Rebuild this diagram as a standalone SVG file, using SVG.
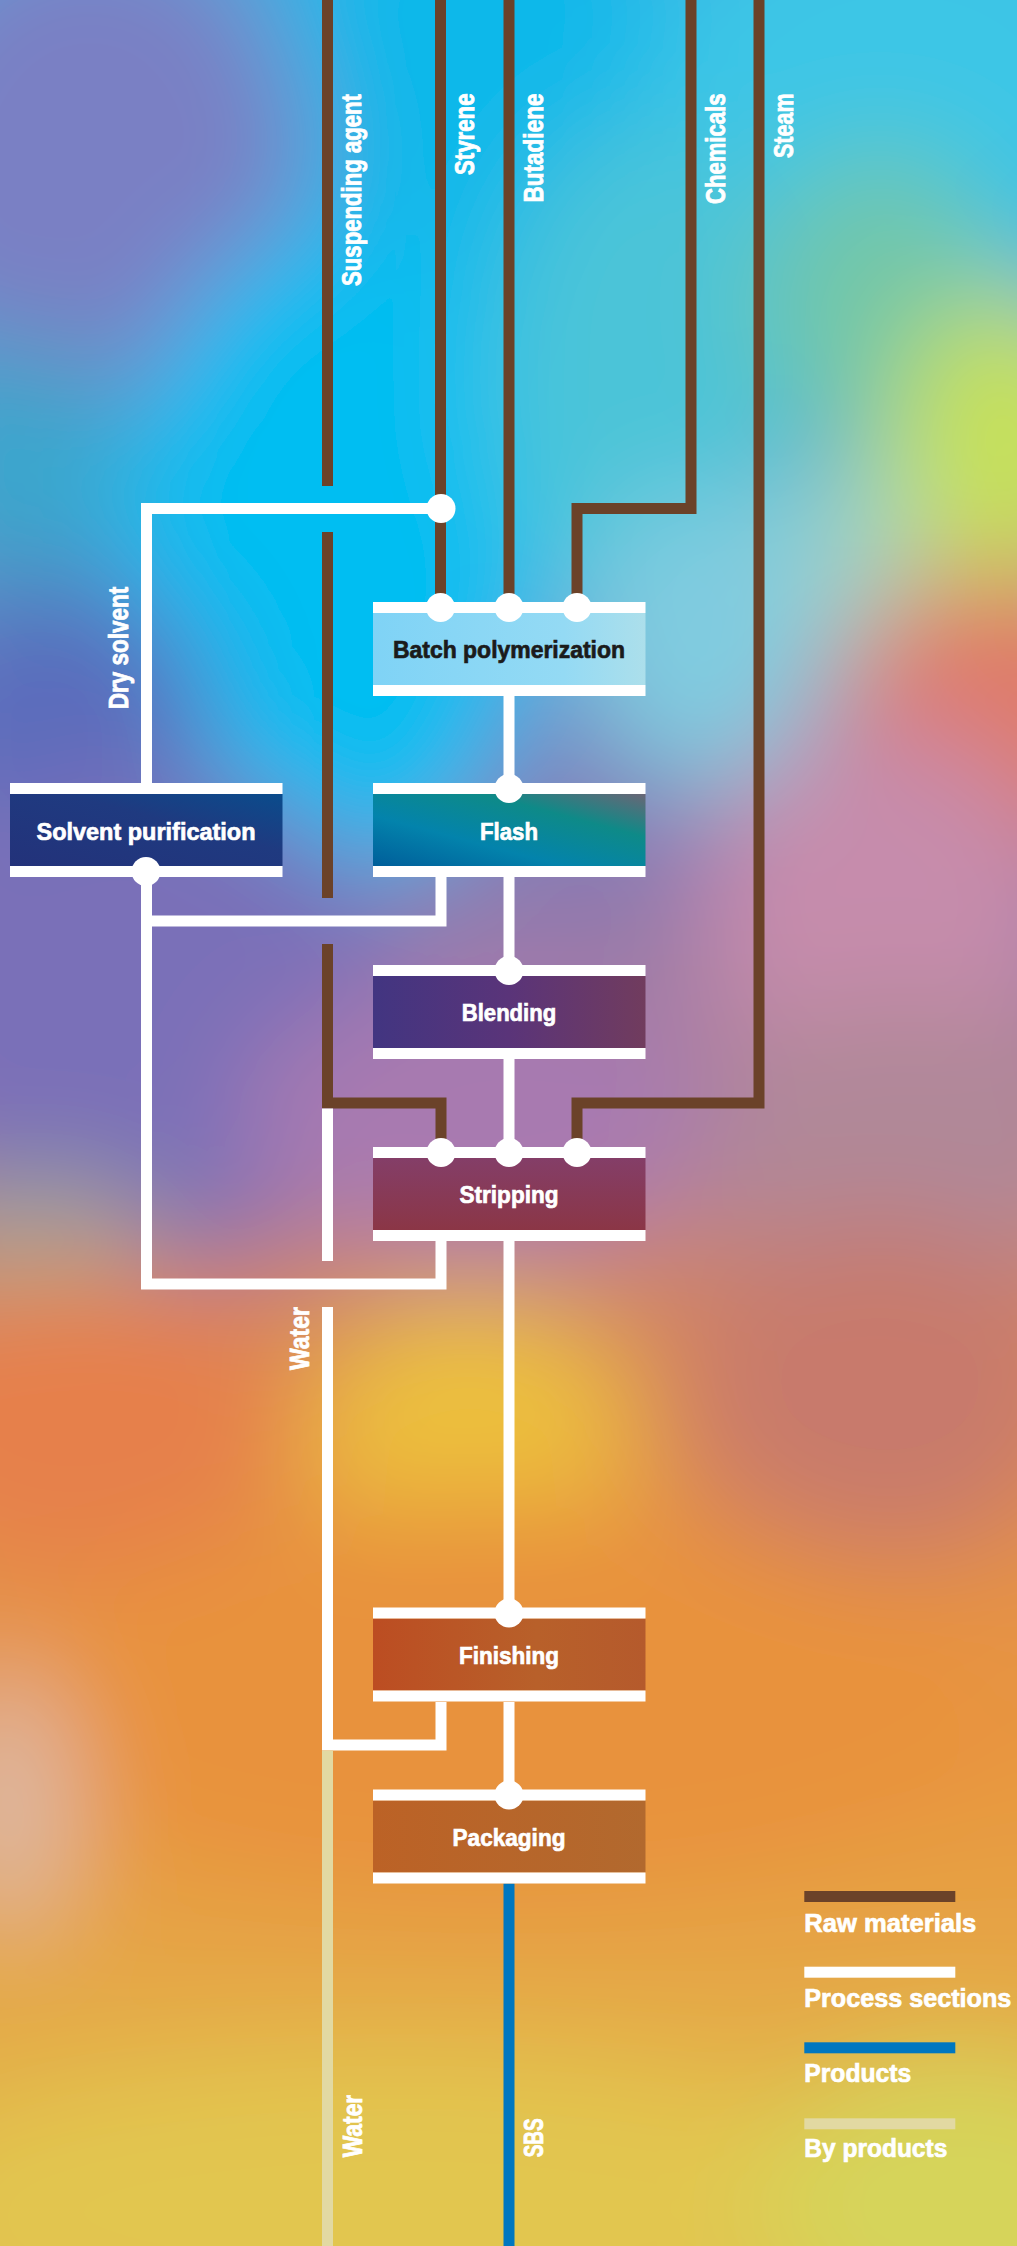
<svg xmlns="http://www.w3.org/2000/svg" width="1017" height="2246" viewBox="0 0 1017 2246">
<defs>
<style>
.raw{stroke:#6b4229;stroke-width:11;fill:none;stroke-linejoin:miter;stroke-linecap:butt}
.proc{stroke:#ffffff;stroke-width:11;fill:none;stroke-linejoin:miter;stroke-linecap:butt}
.prod{stroke:#0077c0;stroke-width:11;fill:none}
.byp{stroke:#e2d9a2;stroke-width:11;fill:none}
.bar{fill:#ffffff}
.dot{fill:#ffffff}
.lbl{font-family:"Liberation Sans",Arial,sans-serif;font-weight:bold;font-size:24.5px;fill:#ffffff;stroke:#ffffff;stroke-width:0.7px;text-anchor:middle}
.vl{font-family:"Liberation Sans",Arial,sans-serif;font-weight:bold;font-size:27px;fill:#ffffff;stroke:#ffffff;stroke-width:0.8px}
.leg{font-family:"Liberation Sans",Arial,sans-serif;font-weight:bold;font-size:25.5px;fill:#ffffff;stroke:#ffffff;stroke-width:0.7px}
</style>
<linearGradient id="bgBase" x1="0" y1="0" x2="0" y2="1">
<stop offset="0" stop-color="#4fa8dc"/>
<stop offset="0.12" stop-color="#30b4e4"/>
<stop offset="0.3" stop-color="#6a90cc"/>
<stop offset="0.4" stop-color="#8878b4"/>
<stop offset="0.5" stop-color="#b8808c"/>
<stop offset="0.6" stop-color="#e08a4e"/>
<stop offset="0.75" stop-color="#e89840"/>
<stop offset="0.88" stop-color="#e2b24a"/>
<stop offset="1" stop-color="#dcc654"/>
</linearGradient>
<filter id="soft" filterUnits="userSpaceOnUse" x="-200" y="-200" width="1417" height="2646">
<feGaussianBlur stdDeviation="55"/>
</filter>
<linearGradient id="gBatch" x1="0" y1="0" x2="1" y2="0">
<stop offset="0" stop-color="#7fd3f6"/><stop offset="0.7" stop-color="#94daf4"/><stop offset="1" stop-color="#acdfeb"/>
</linearGradient>
<linearGradient id="gSolv" x1="0" y1="1" x2="1" y2="0">
<stop offset="0" stop-color="#23327a"/><stop offset="0.6" stop-color="#1f3a80"/><stop offset="1" stop-color="#0a4c8c"/>
</linearGradient>
<linearGradient id="gFlash" x1="0" y1="1" x2="1" y2="0">
<stop offset="0" stop-color="#005e9a"/><stop offset="0.35" stop-color="#0383ac"/><stop offset="0.7" stop-color="#0e8a88"/><stop offset="1" stop-color="#6a6676"/>
</linearGradient>
<linearGradient id="gBlend" x1="0" y1="0" x2="1" y2="0">
<stop offset="0" stop-color="#423581"/><stop offset="0.5" stop-color="#5a3479"/><stop offset="1" stop-color="#713c5e"/>
</linearGradient>
<linearGradient id="gStrip" x1="0" y1="0" x2="0" y2="1">
<stop offset="0" stop-color="#843e68"/><stop offset="1" stop-color="#8b3646"/>
</linearGradient>
<linearGradient id="gFin" x1="0" y1="0" x2="1" y2="0">
<stop offset="0" stop-color="#bc4d22"/><stop offset="0.6" stop-color="#b8602a"/><stop offset="1" stop-color="#b55a2c"/>
</linearGradient>
<linearGradient id="gPack" x1="0" y1="0" x2="1" y2="0">
<stop offset="0" stop-color="#bc6226"/><stop offset="1" stop-color="#b2692e"/>
</linearGradient>
</defs>

<g id="background" filter="url(#soft)">
<rect x="-200" y="-200" width="1417" height="2646" fill="url(#bgBase)"/>
<ellipse cx="480" cy="100" rx="220" ry="240" fill="#0ab8ea"/>
<ellipse cx="900" cy="80" rx="250" ry="200" fill="#3cc6e6"/>
<ellipse cx="90" cy="160" rx="220" ry="240" fill="#7a80c4"/>
<ellipse cx="330" cy="560" rx="210" ry="330" fill="#00bef2"/>
<ellipse cx="640" cy="380" rx="150" ry="260" fill="#4cc4d8"/>
<ellipse cx="20" cy="470" rx="110" ry="130" fill="#3aa6cc"/>
<ellipse cx="60" cy="720" rx="150" ry="140" fill="#5a6cbc"/>
<ellipse cx="880" cy="300" rx="120" ry="150" fill="#72c6a8"/>
<ellipse cx="860" cy="570" rx="100" ry="110" fill="#9cd2c6"/>
<ellipse cx="1010" cy="450" rx="120" ry="160" fill="#c6e05a"/>
<ellipse cx="1000" cy="720" rx="170" ry="150" fill="#e07a66"/>
<ellipse cx="700" cy="640" rx="120" ry="150" fill="#80cce0"/>
<ellipse cx="880" cy="910" rx="180" ry="190" fill="#c68cac"/>
<ellipse cx="140" cy="1020" rx="270" ry="250" fill="#7a70b8"/>
<ellipse cx="480" cy="1120" rx="240" ry="140" fill="#a87ab0"/>
<ellipse cx="900" cy="1150" rx="200" ry="150" fill="#b08898"/>
<ellipse cx="40" cy="1240" rx="120" ry="60" fill="#a8a890"/>
<ellipse cx="80" cy="1420" rx="200" ry="150" fill="#e6804c"/>
<ellipse cx="470" cy="1440" rx="160" ry="140" fill="#ecc03c"/>
<ellipse cx="880" cy="1390" rx="200" ry="170" fill="#c87a6c"/>
<ellipse cx="500" cy="1700" rx="500" ry="200" fill="#e8923e"/>
<ellipse cx="10" cy="1800" rx="60" ry="130" fill="#dcbcaa"/>
<ellipse cx="400" cy="2200" rx="500" ry="150" fill="#e2c650"/>
<ellipse cx="960" cy="2200" rx="200" ry="150" fill="#d6d45a"/>
</g>

<g id="connectors">
<path class="raw" d="M327.5,0 V486"/>
<path class="raw" d="M327.5,532 V898"/>
<path class="raw" d="M327.5,944 V1103 H441 V1152"/>
<path class="raw" d="M440.5,0 V607"/>
<path class="raw" d="M509,0 V607"/>
<path class="raw" d="M691,0 V508.5 H577 V607"/>
<path class="raw" d="M759,0 V1103 H577 V1152"/>
<path class="proc" d="M146.5,783 V508.5 H441"/>
<path class="proc" d="M509,696 V789"/>
<path class="proc" d="M509,877 V970"/>
<path class="proc" d="M441,877 V921 H146.5"/>
<path class="proc" d="M146.5,871.5 V1284 H441 V1240"/>
<path class="proc" d="M509,1059 V1152"/>
<path class="proc" d="M509,1240 V1613"/>
<path class="proc" d="M327.5,1108.5 V1261"/>
<path class="proc" d="M327.5,1307 V1745 H441 V1702"/>
<path class="proc" d="M509,1702 V1795"/>
<circle class="dot" cx="441" cy="508.5" r="14.5"/>
<path class="byp" d="M327.5,1750.5 V2246"/>
<path class="prod" d="M509,1883.5 V2246"/>
<text class="vl" transform="translate(361,286) rotate(-90)" textLength="192" lengthAdjust="spacingAndGlyphs">Suspending agent</text>
<text class="vl" transform="translate(474,175) rotate(-90)" textLength="81.5" lengthAdjust="spacingAndGlyphs">Styrene</text>
<text class="vl" transform="translate(543,202.5) rotate(-90)" textLength="109" lengthAdjust="spacingAndGlyphs">Butadiene</text>
<text class="vl" transform="translate(724.5,204) rotate(-90)" textLength="110.5" lengthAdjust="spacingAndGlyphs">Chemicals</text>
<text class="vl" transform="translate(792.5,158) rotate(-90)" textLength="64.5" lengthAdjust="spacingAndGlyphs">Steam</text>
<text class="vl" transform="translate(128,709.3) rotate(-90)" textLength="122.5" lengthAdjust="spacingAndGlyphs">Dry solvent</text>
<text class="vl" transform="translate(309,1370) rotate(-90)" textLength="63" lengthAdjust="spacingAndGlyphs">Water</text>
<text class="vl" transform="translate(361.7,2157.3) rotate(-90)" textLength="62.5" lengthAdjust="spacingAndGlyphs">Water</text>
<text class="vl" transform="translate(543.3,2157.3) rotate(-90)" textLength="39" lengthAdjust="spacingAndGlyphs">SBS</text>
</g>

<g id="batch-polymerization">
<rect x="373" y="613" width="272.5" height="72" fill="url(#gBatch)"/>
<rect class="bar" x="373" y="602" width="272.5" height="11"/>
<rect class="bar" x="373" y="685" width="272.5" height="11"/>
<circle class="dot" cx="440.5" cy="607.5" r="14.5"/>
<circle class="dot" cx="509" cy="607.5" r="14.5"/>
<circle class="dot" cx="577" cy="607.5" r="14.5"/>
<text class="lbl" x="509" y="658.3" style="fill:#1b1b1b;stroke:#1b1b1b" textLength="232" lengthAdjust="spacingAndGlyphs">Batch polymerization</text>
</g>

<g id="solvent-purification">
<rect x="10" y="794" width="272.5" height="72" fill="url(#gSolv)"/>
<rect class="bar" x="10" y="783" width="272.5" height="11"/>
<rect class="bar" x="10" y="866" width="272.5" height="11"/>
<circle class="dot" cx="146" cy="871.5" r="14.5"/>
<text class="lbl" x="146" y="839.5" textLength="219" lengthAdjust="spacingAndGlyphs">Solvent purification</text>
</g>

<g id="flash">
<rect x="373" y="794" width="272.5" height="72" fill="url(#gFlash)"/>
<rect class="bar" x="373" y="783" width="272.5" height="11"/>
<rect class="bar" x="373" y="866" width="272.5" height="11"/>
<circle class="dot" cx="509" cy="788.5" r="14.5"/>
<text class="lbl" x="509" y="839.5" textLength="58" lengthAdjust="spacingAndGlyphs">Flash</text>
</g>

<g id="blending">
<rect x="373" y="976" width="272.5" height="72" fill="url(#gBlend)"/>
<rect class="bar" x="373" y="965" width="272.5" height="11"/>
<rect class="bar" x="373" y="1048" width="272.5" height="11"/>
<circle class="dot" cx="509" cy="970.5" r="14.5"/>
<text class="lbl" x="509" y="1021.3" textLength="94.5" lengthAdjust="spacingAndGlyphs">Blending</text>
</g>

<g id="stripping">
<rect x="373" y="1158" width="272.5" height="72" fill="url(#gStrip)"/>
<rect class="bar" x="373" y="1147" width="272.5" height="11"/>
<rect class="bar" x="373" y="1230" width="272.5" height="11"/>
<circle class="dot" cx="441" cy="1152.5" r="14.5"/>
<circle class="dot" cx="509" cy="1152.5" r="14.5"/>
<circle class="dot" cx="577" cy="1152.5" r="14.5"/>
<text class="lbl" x="509" y="1203.3" textLength="99" lengthAdjust="spacingAndGlyphs">Stripping</text>
</g>

<g id="finishing">
<rect x="373" y="1618.5" width="272.5" height="72" fill="url(#gFin)"/>
<rect class="bar" x="373" y="1607.5" width="272.5" height="11"/>
<rect class="bar" x="373" y="1690.5" width="272.5" height="11"/>
<circle class="dot" cx="509" cy="1613" r="14.5"/>
<text class="lbl" x="509" y="1663.8" textLength="100" lengthAdjust="spacingAndGlyphs">Finishing</text>
</g>

<g id="packaging">
<rect x="373" y="1800.5" width="272.5" height="72" fill="url(#gPack)"/>
<rect class="bar" x="373" y="1789.5" width="272.5" height="11"/>
<rect class="bar" x="373" y="1872.5" width="272.5" height="11"/>
<circle class="dot" cx="509" cy="1795" r="14.5"/>
<text class="lbl" x="509" y="1845.8" textLength="113" lengthAdjust="spacingAndGlyphs">Packaging</text>
</g>

<g id="legend">
<rect x="804.3" y="1891" width="151" height="11" fill="#6b4229"/>
<text class="leg" x="804.3" y="1931.7" textLength="172" lengthAdjust="spacingAndGlyphs">Raw materials</text>
<rect x="804.3" y="1966.7" width="151" height="11" fill="#ffffff"/>
<text class="leg" x="804.3" y="2006.7" textLength="207" lengthAdjust="spacingAndGlyphs">Process sections</text>
<rect x="804.3" y="2042.3" width="151" height="11" fill="#0077c0"/>
<text class="leg" x="804.3" y="2082.3" textLength="107" lengthAdjust="spacingAndGlyphs">Products</text>
<rect x="804.3" y="2118.3" width="151" height="11" fill="#e2d9a2"/>
<text class="leg" x="804.3" y="2156.5" textLength="143" lengthAdjust="spacingAndGlyphs">By products</text>
</g>
</svg>
